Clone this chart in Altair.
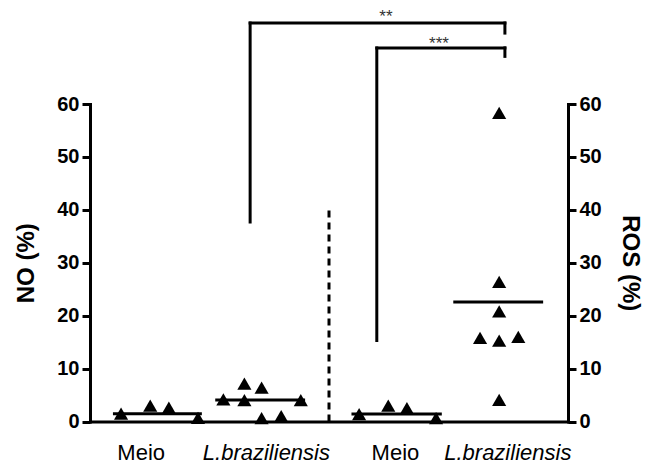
import altair as alt
import pandas as pd

# ---------------- data ----------------
# x positions are on a 0-10 position scale, y values in %
g1_x = [0.65, 1.26, 1.65, 2.26]
g1_v = [1.5, 3.0, 2.6, 0.7]
g2_x = [2.79, 3.23, 3.23, 3.59, 3.59, 4.00, 4.41]
g2_v = [4.2, 7.15, 4.05, 6.4, 0.66, 1.0, 4.05]
g3_x = [5.63, 6.24, 6.63, 7.24]
g3_v = [1.4, 3.0, 2.55, 0.66]
g4_x = [8.56, 8.56, 8.56, 8.16, 8.56, 8.96, 8.56]
g4_v = [58.3, 26.4, 20.8, 15.8, 15.3, 16.0, 4.1]

# mean lines (value, x start, x end)
no_mean_v = [1.47, 4.05]
no_mean_x1 = [0.48, 2.62]
no_mean_x2 = [2.34, 4.50]
ros_mean_v = [1.42, 22.6]
ros_mean_x1 = [5.47, 7.60]
ros_mean_x2 = [7.36, 9.48]

# category labels
cat_labels = ["Meio", "L.braziliensis", "Meio", "L.braziliensis"]
cat_pos = [1.06, 3.68, 6.38, 8.73]
cat_italic = [False, True, False, True]

# significance brackets: segments (x, x2, y, y2)
br_x1 = [3.35, 3.35, 8.68, 6.00, 6.00, 8.68]
br_x2 = [3.35, 8.68, 8.68, 6.00, 8.68, 8.68]
br_y1 = [37.7, 75.3, 75.3, 15.3, 70.6, 70.6]
br_y2 = [75.3, 75.3, 73.4, 70.6, 70.6, 69.0]
star_text = ["**", "***"]
star_x = [6.19, 7.30]
star_y = [78.0, 72.9]

# separator
sep_x = [5.0]
sep_y1 = [0.0]
sep_y2 = [40.3]

y_ticks = [0, 10, 20, 30, 40, 50, 60]

# ---------------- tables ----------------
no_pts = pd.DataFrame({"x": g1_x + g2_x, "v": g1_v + g2_v})
ros_pts = pd.DataFrame({"x": g3_x + g4_x, "v": g3_v + g4_v})
no_mean = pd.DataFrame({"v": no_mean_v, "x1": no_mean_x1, "x2": no_mean_x2})
ros_mean = pd.DataFrame({"v": ros_mean_v, "x1": ros_mean_x1, "x2": ros_mean_x2})
brackets = pd.DataFrame({"x1": br_x1, "x2": br_x2, "y1": br_y1, "y2": br_y2})
stars = pd.DataFrame({"t": star_text, "x": star_x, "y": star_y})
sep = pd.DataFrame({"x": sep_x, "y1": sep_y1, "y2": sep_y2})

FONT = "Liberation Sans"
xs = alt.Scale(domain=[0, 10], nice=False, zero=False)
ys = alt.Scale(domain=[0, 60], nice=False, zero=False)

label_expr = "[{}][indexof([{}], datum.value)]".format(
    ",".join("'" + s + "'" for s in cat_labels), ",".join(str(p) for p in cat_pos))
italic_vals = [str(p) for p, it in zip(cat_pos, cat_italic) if it]
italic_test = "indexof([{}], datum.value) >= 0".format(",".join(italic_vals))

x_axis = alt.Axis(
    values=cat_pos, labelExpr=label_expr, title=None, ticks=False, grid=False,
    domainColor="black", domainWidth=3, domainCap="square",
    labelFont=FONT, labelFontSize=22, labelColor="black", labelPadding=21,
    labelFontStyle={"condition": {"test": italic_test, "value": "italic"}, "value": "normal"},
    labelFlush=False, labelOverlap=False, labelBound=False,
)

def y_axis(orient, title, tx, angle):
    return alt.Axis(
        orient=orient, values=y_ticks, title=title, grid=False,
        domainColor="black", domainWidth=3, domainCap="square",
        tickColor="black", tickWidth=3, tickSize=8,
        labelFont=FONT, labelFontSize=20, labelFontWeight="bold", labelColor="black",
        labelPadding=3, labelFlush=False,
        titleFont=FONT, titleFontSize=24, titleFontWeight="bold", titleColor="black",
        titleX=tx, titleY=158.75, titleAngle=angle, titleBaseline="middle", titleAlign="center",
    )

tri = dict(shape="triangle-up", filled=True, size=200, color="black", opacity=1, strokeWidth=0)

l_no = alt.Chart(no_pts).mark_point(**tri).encode(
    x=alt.X("x:Q", scale=xs, axis=x_axis),
    y=alt.Y("v:Q", scale=ys, axis=y_axis("left", "NO (%)", -63.5, -90)),
)
l_ros = alt.Chart(ros_pts).mark_point(**tri).encode(
    x=alt.X("x:Q", scale=xs, axis=None),
    y=alt.Y("v:Q", scale=ys, axis=y_axis("right", "ROS (%)", 61, 90)),
)
l_no_mean = alt.Chart(no_mean).mark_rule(color="black", strokeWidth=3).encode(
    x=alt.X("x1:Q", scale=xs, axis=None), x2="x2:Q",
    y=alt.Y("v:Q", scale=ys, axis=None),
)
l_ros_mean = alt.Chart(ros_mean).mark_rule(color="black", strokeWidth=3).encode(
    x=alt.X("x1:Q", scale=xs, axis=None), x2="x2:Q",
    y=alt.Y("v:Q", scale=ys, axis=None),
)
l_br = alt.Chart(brackets).mark_rule(color="black", strokeWidth=3, strokeCap="square").encode(
    x=alt.X("x1:Q", scale=xs, axis=None), x2="x2:Q",
    y=alt.Y("y1:Q", scale=ys, axis=None), y2="y2:Q",
)
l_sep = alt.Chart(sep).mark_rule(color="black", strokeWidth=3, strokeDash=[7, 5]).encode(
    x=alt.X("x:Q", scale=xs, axis=None),
    y=alt.Y("y1:Q", scale=ys, axis=None), y2="y2:Q",
)
l_star = alt.Chart(stars).mark_text(font=FONT, fontSize=17, color="#333", baseline="top", align="center").encode(
    x=alt.X("x:Q", scale=xs, axis=None),
    y=alt.Y("y:Q", scale=ys, axis=None),
    text="t:N",
)

chart = alt.layer(l_no, l_ros, l_no_mean, l_ros_mean, l_br, l_sep, l_star).resolve_scale(
    x="independent", y="independent"
).properties(
    width=478, height=317.5,
    padding={"left": 90, "top": 104, "right": 81, "bottom": 47.5},
    autosize="none",
    background="white",
).configure_view(stroke=None)

chart.save("out.html", embed_options={"renderer": "svg", "actions": False})
